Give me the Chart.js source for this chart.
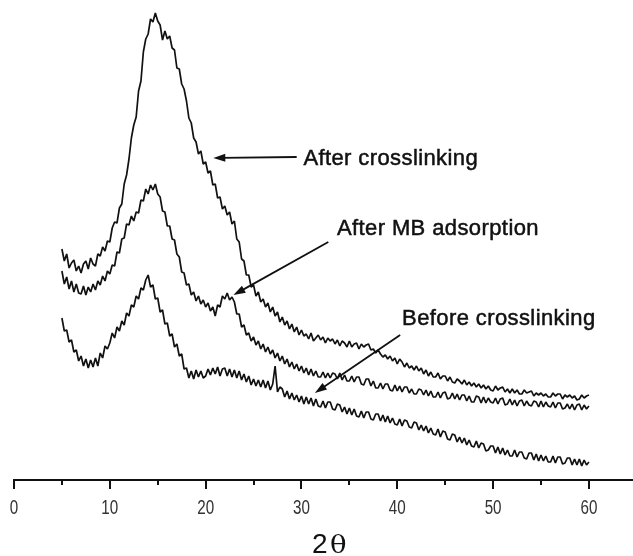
<!DOCTYPE html>
<html>
<head>
<meta charset="utf-8">
<script src="https://cdn.jsdelivr.net/npm/chart.js@4.4.1/dist/chart.umd.min.js"></script>
<style>
    html, body { margin: 0; padding: 0; background: #fff; }
    #wrap { width: 633px; height: 556px; position: relative; }
</style>
</head>
<body>
<div id="wrap"><canvas id="xrd"></canvas></div>
<script>
// XRD patterns, intensity in arbitrary units, sampled every 0.25 deg 2theta from 5 to 60
const twoThetaStart = 5;
const twoThetaStep = 0.25;

const afterCrosslinking = [
    231, 219, 226, 212,  217, 220, 209, 214,  207, 216, 219, 211,  222, 216, 214, 226,
    224, 233, 229, 239,  238, 252, 258, 257,  272, 276, 296, 305,  321, 342, 355, 363,
    389, 399, 428, 441,  446, 461, 458, 467,  459, 455, 440, 449,  441, 444, 432, 430,
    412, 411, 396, 391,  379, 362, 357, 342,  338, 326, 329, 316,  318, 307, 309, 295,
    296, 282, 283, 271,  274, 265, 268, 256,  259, 241, 238, 221,  219, 205, 205, 193,
    195, 184, 188, 178,  181, 173, 177, 168,  173, 164, 168, 158,  163, 155, 159, 151,
    156, 148, 153, 145,  150, 144, 146, 141,  147, 139, 142, 145,  140, 143, 137, 142,
    139, 141, 136, 140,  134, 139, 137, 133,  139, 133, 136, 137,  131, 136, 133, 135,
    136, 130, 131, 127,  130, 126, 123, 125,  121, 124, 119, 122,  116, 121, 118, 113,
    117, 112, 114, 110,  114, 109, 112, 106,  110, 104, 108, 103,  103, 107, 101, 104,
    104, 99, 103, 98,    97, 101, 99, 96,     100, 95, 98, 94,     97, 93, 96, 92,
    95, 91, 94, 90,      89, 94, 90, 92,      93, 88, 91, 87,      91, 87, 90, 86,
    86, 90, 87, 88,      89, 84, 87, 85,      87, 84, 86, 83,      83, 87, 84, 86,
    86, 81, 85, 83,      85, 82, 84, 80,      81, 85, 82, 84,      85
];

const afterMbAdsorption = [
    209, 196, 203, 191,  199, 188, 196, 187,  186, 194, 185, 193,  188, 196, 190, 199,
    195, 204, 199, 209,  206, 215, 214, 228,  227, 241, 242, 256,  255, 264, 259, 268,
    267, 280, 279, 291,  286, 295, 290, 296,  286, 283, 269, 268,  254, 254, 241, 240,
    226, 223, 208, 207,  195, 196, 185, 188,  179, 184, 176, 180,  173, 177, 169, 173,
    164, 175, 173, 184,  181, 187, 180, 183,  178, 166, 166, 153,  155, 145, 147, 139,
    143, 135, 139, 131,  136, 128, 133, 126,  130, 122, 127, 119,  124, 116, 121, 113,
    118, 111, 116, 109,  114, 107, 112, 105,  111, 104, 109, 103,  103, 108, 102, 107,
    102, 107, 106, 101,  107, 100, 105, 99,   99, 104, 98, 103,    103, 96, 95, 101,
    101, 94, 99, 92,     92, 97, 91, 96,      96, 90, 89, 95,      89, 94, 88, 93,
    93, 87, 91, 86,      86, 91, 90, 85,      90, 84, 89, 83,      83, 88, 82, 87,
    88, 81, 82, 87,      81, 86, 80, 85,      85, 79, 84, 78,      78, 84, 83, 77,
    83, 77, 82, 78,      77, 82, 76, 81,      82, 75, 76, 81,      75, 80, 74, 79,
    80, 74, 79, 75,      74, 79, 78, 73,      79, 73, 78, 74,      73, 78, 72, 77,
    77, 71, 72, 76,      71, 76, 70, 75,      76, 70, 75, 71,      74
];

const beforeCrosslinking = [
    162, 149, 150, 138,  140, 128, 130, 119,  124, 114, 121, 112,  120, 113, 122, 114,
    127, 122, 134, 131,  137, 147, 142, 153,  149, 159, 155, 167,  164, 175, 173, 184,
    181, 192, 190, 200,  205, 193, 195, 181,  182, 168, 170, 156,  157, 144, 146, 133,
    136, 124, 126, 111,  112, 102, 109, 101,  110, 103, 109, 102,  104, 111, 105, 112,
    106, 113, 104, 111,  112, 104, 111, 103,  110, 102, 109, 100,  106, 98, 104, 95,
    101, 94, 100, 93,    100, 92, 99, 90,     96, 114, 88, 93,     91, 83, 89, 81,
    87, 80, 85, 78,      84, 76, 83, 76,      82, 74, 81, 74,      73, 79, 72, 78,
    78, 71, 70, 76,      75, 68, 73, 66,      72, 65, 71, 64,      63, 69, 62, 68,
    68, 61, 60, 66,      66, 59, 65, 58,      64, 57, 62, 56,      55, 61, 54, 60,
    59, 53, 52, 58,      57, 50, 55, 49,      54, 47, 52, 46,      45, 51, 43, 49,
    48, 41, 40, 46,      45, 38, 43, 37,      42, 35, 40, 34,      33, 39, 32, 37,
    36, 29, 30, 34,      34, 27, 33, 26,      32, 25, 30, 24,      24, 30, 23, 28,
    28, 22, 21, 27,      27, 20, 26, 19,      25, 19, 24, 18,      18, 24, 17, 23,
    23, 16, 17, 22,      22, 15, 21, 15,      21, 14, 20, 15,      18
];

const majorTicks = [0, 10, 20, 30, 40, 50, 60];
const minorTicks = [5, 15, 25, 35, 45, 55];
const tickLabels = ['0', '10', '20', '30', '40', '50', '60'];

// text labels and arrows, anchored in data units
const labels = [
    { text: 'After crosslinking', x: 30.2, y: 315 },
    { text: 'After MB adsorption', x: 33.7, y: 245 },
    { text: 'Before crosslinking', x: 40.5, y: 155 }
];
const arrows = [
    { from: [29.5, 323], to: [20.8, 322] },
    { from: [32.8, 238], to: [22.9, 185] },
    { from: [40.3, 145], to: [31.4, 87] }
];

function toPoints(values) {
    return values.map((v, i) => ({ x: twoThetaStart + i * twoThetaStep, y: v }));
}

const axisPlugin = {
    id: 'axisPlugin',
    afterDraw(chart) {
        const ctx = chart.ctx;
        const xs = chart.scales.x;
        const ys = chart.scales.y;
        const y0 = chart.chartArea.bottom;
        ctx.save();
        ctx.strokeStyle = '#111';
        ctx.lineWidth = 2;
        ctx.beginPath();
        ctx.moveTo(xs.getPixelForValue(0) - 1, y0);
        ctx.lineTo(chart.width, y0);
        majorTicks.forEach(v => {
            const px = Math.round(xs.getPixelForValue(v));
            ctx.moveTo(px, y0);
            ctx.lineTo(px, y0 + 9);
        });
        minorTicks.forEach(v => {
            const px = Math.round(xs.getPixelForValue(v));
            ctx.moveTo(px, y0);
            ctx.lineTo(px, y0 + 5);
        });
        ctx.stroke();

        // tick labels, condensed
        ctx.fillStyle = '#333';
        ctx.font = '20px "Liberation Sans", Arial, sans-serif';
        ctx.textAlign = 'center';
        ctx.textBaseline = 'alphabetic';
        majorTicks.forEach((v, i) => {
            const px = xs.getPixelForValue(v);
            ctx.save();
            ctx.translate(px, y0 + 34);
            ctx.scale(0.76, 1);
            ctx.fillText(tickLabels[i], 0, 0);
            ctx.restore();
        });

        // axis title 2θ
        ctx.fillStyle = '#111';
        ctx.textAlign = 'left';
        ctx.font = '28px "Liberation Sans", Arial, sans-serif';
        ctx.fillText('2', 312, y0 + 73);
        ctx.font = '25px "DejaVu Serif", serif';
        ctx.save();
        ctx.translate(330, y0 + 73);
        ctx.scale(1.1, 1);
        ctx.fillText('θ', 0, 0);
        ctx.restore();

        // arrows
        ctx.fillStyle = '#111';
        ctx.lineWidth = 1.8;
        arrows.forEach(a => {
            const x1 = xs.getPixelForValue(a.from[0]), y1 = ys.getPixelForValue(a.from[1]);
            const x2 = xs.getPixelForValue(a.to[0]), y2 = ys.getPixelForValue(a.to[1]);
            const ang = Math.atan2(y2 - y1, x2 - x1);
            ctx.beginPath();
            ctx.moveTo(x1, y1);
            ctx.lineTo(x2 - 8 * Math.cos(ang), y2 - 8 * Math.sin(ang));
            ctx.stroke();
            ctx.beginPath();
            ctx.moveTo(x2, y2);
            ctx.lineTo(x2 - 12 * Math.cos(ang) + 4 * Math.sin(ang), y2 - 12 * Math.sin(ang) - 4 * Math.cos(ang));
            ctx.lineTo(x2 - 12 * Math.cos(ang) - 4 * Math.sin(ang), y2 - 12 * Math.sin(ang) + 4 * Math.cos(ang));
            ctx.closePath();
            ctx.fill();
        });

        // labels, a hair of stroke to thicken them like the scan
        ctx.font = '22px "Liberation Sans", Arial, sans-serif';
        ctx.letterSpacing = '0.4px';
        ctx.textAlign = 'left';
        ctx.lineWidth = 0.5;
        labels.forEach(l => {
            const px = xs.getPixelForValue(l.x), py = ys.getPixelForValue(l.y);
            ctx.fillText(l.text, px, py);
            ctx.strokeText(l.text, px, py);
        });
        ctx.restore();
    }
};

const lineStyle = {
    borderColor: '#111', borderWidth: 1.7, borderJoinStyle: 'bevel',
    pointRadius: 0, tension: 0, fill: false
};

new Chart(document.getElementById('xrd'), {
    type: 'line',
    data: {
        datasets: [
            { label: 'After crosslinking', data: toPoints(afterCrosslinking), ...lineStyle },
            { label: 'After MB adsorption', data: toPoints(afterMbAdsorption), ...lineStyle },
            { label: 'Before crosslinking', data: toPoints(beforeCrosslinking), ...lineStyle }
        ]
    },
    options: {
        responsive: true,
        maintainAspectRatio: false,
        animation: false,
        layout: { padding: { left: 14, right: 0, top: 0, bottom: 0 } },
        plugins: {
            legend: { display: false },
            tooltip: { enabled: false }
        },
        scales: {
            x: {
                type: 'linear',
                min: 0,
                max: 64.6,
                afterFit(scale) { scale.height = 76; },
                grid: { display: false },
                border: { display: false },
                ticks: { display: false },
                title: { display: false }
            },
            y: {
                display: false,
                min: 0,
                max: 480
            }
        }
    },
    plugins: [axisPlugin]
});
</script>
</body>
</html>
